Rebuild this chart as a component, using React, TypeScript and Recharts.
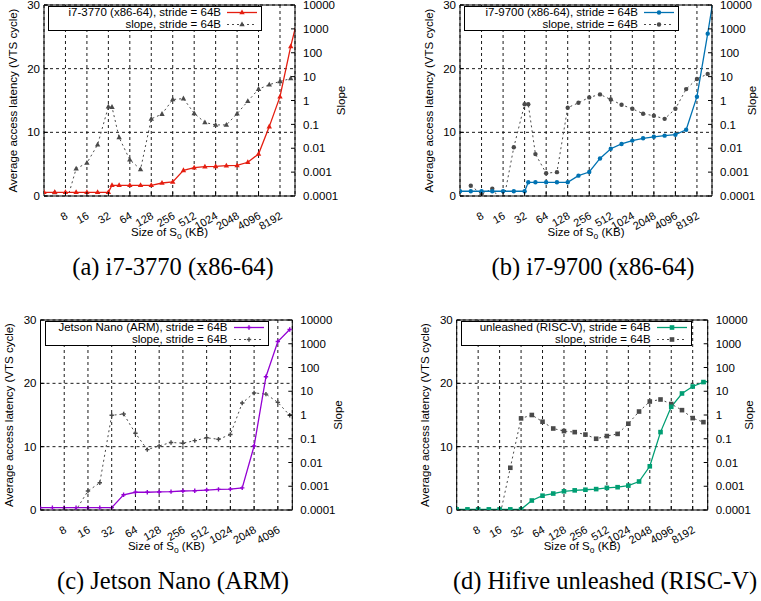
import React from "react";
import { ComposedChart, Line, XAxis, YAxis, CartesianGrid, ReferenceLine, Label } from "recharts";

// x: size of S_o in KB, left axis: average access latency, right axis: slope (log)
const sizesA = [4, 5.66, 8, 11.3, 16, 22.6, 32, 36, 45.3, 64, 90.5, 128, 181, 256, 362, 512, 724, 1024, 1448, 2048, 2896, 4096, 5793, 8192, 11585, 16384];
const latencyA = [0.58, 0.58, 0.58, 0.58, 0.58, 0.58, 0.58, 1.68, 1.68, 1.68, 1.68, 1.68, 2.04, 2.2, 4.03, 4.45, 4.6, 4.66, 4.76, 4.8, 5.3, 6.6, 10.9, 15.6, 23.5, 30.3];
const slopeA = [null, 0.00014, 0.00004, 0.0014, 0.0024, 0.014, 0.55, 0.53, 0.028, 0.0033, 0.0013, 0.17, 0.27, 1.1, 1.2, 0.29, 0.12, 0.095, 0.095, 0.28, 0.93, 3.0, 4.6, 6.3, 8.3, null];

const sizesB = [4, 5.66, 8, 11.3, 16, 22.6, 32, 36, 45.3, 64, 90.5, 128, 181, 256, 362, 512, 724, 1024, 1448, 2048, 2896, 4096, 5793, 8192, 11585, 16384];
const latencyB = [0.75, 0.75, 0.75, 0.75, 0.75, 0.75, 0.75, 2.15, 2.15, 2.15, 2.15, 2.15, 3.2, 3.77, 5.9, 7.43, 8.17, 8.7, 9.06, 9.3, 9.48, 9.63, 10.4, 15.6, 25.5, 36];
const slopeB = [null, 0.00027, 0.00012, 0.0002, 0.00005, 0.011, 0.7, 0.7, 0.0057, 0.0009, 0.001, 0.5, 0.8, 1.35, 1.8, 1.1, 0.66, 0.45, 0.28, 0.23, 0.17, 0.45, 3.0, 8, 13, null];

const sizesC = [4, 5.66, 8, 11.3, 16, 22.6, 32, 45.3, 64, 90.5, 128, 181, 256, 362, 512, 724, 1024, 1448, 2048, 2896, 4096, 5793];
const latencyC = [0.37, 0.37, 0.37, 0.37, 0.37, 0.37, 0.37, 2.4, 2.8, 2.8, 2.85, 2.9, 3.0, 3.05, 3.15, 3.25, 3.3, 3.5, 10.1, 21.05, 26.6, 28.5];
const slopeC = [null, null, 0.0001, 0.0001, 0.00063, 0.0014, 0.97, 1.1, 0.17, 0.035, 0.05, 0.07, 0.065, 0.083, 0.11, 0.095, 0.15, 3.2, 8.5, 7.6, 3.4, 0.97];

const sizesD = [4, 5.66, 8, 11.3, 16, 22.6, 32, 45.3, 64, 90.5, 128, 181, 256, 362, 512, 724, 1024, 1448, 2048, 2896, 4096, 5793, 8192, 11585, 16384];
const latencyD = [0.1, 0.1, 0.1, 0.1, 0.1, 0.1, 0.1, 1.5, 2.26, 2.6, 2.95, 3.1, 3.2, 3.3, 3.5, 3.6, 3.85, 4.5, 6.9, 12.3, 16.3, 18.4, 19.5, 20.2, 20.4];
const slopeD = [null, null, null, null, 0.00005, 0.006, 0.72, 1.0, 0.52, 0.27, 0.21, 0.19, 0.15, 0.1, 0.13, 0.16, 0.43, 1.4, 3.7, 4.5, 2.9, 1.6, 0.74, 0.5, null];

const xTicksLong = [8, 16, 32, 64, 128, 256, 512, 1024, 2048, 4096, 8192];
const xTicksShort = [8, 16, 32, 64, 128, 256, 512, 1024, 2048, 4096];
const latencyTicks = [0, 10, 20, 30];
const slopeTicks = [0.0001, 0.001, 0.01, 0.1, 1, 10, 100, 1000, 10000];

const FONT = "'Liberation Sans', Arial, sans-serif";
const SERIF = "'Liberation Serif', 'Times New Roman', serif";
const SLOPE_GRAY = "#4a4a4a";

type Shape = "triangle" | "circle" | "plus" | "square";

function Marker({ cx, cy, shape, color }: { cx: number; cy: number; shape: Shape; color: string }) {
  if (cx == null || cy == null || isNaN(cx) || isNaN(cy)) return <g />;
  if (shape === "triangle") {
    return <polygon points={`${cx},${cy - 3} ${cx - 2.7},${cy + 1.8} ${cx + 2.7},${cy + 1.8}`} fill={color} />;
  }
  if (shape === "circle") return <circle cx={cx} cy={cy} r={2.2} fill={color} />;
  if (shape === "square") return <rect x={cx - 2.3} y={cy - 2.3} width={4.6} height={4.6} fill={color} />;
  return (
    <g stroke={color} strokeWidth={1.4}>
      <line x1={cx - 2.2} x2={cx + 2.2} y1={cy} y2={cy} />
      <line x1={cx} x2={cx} y1={cy - 2.2} y2={cy + 2.2} />
    </g>
  );
}

const XTick = (props: any) => {
  const { x, y, payload } = props;
  const ax = x + 3;
  const ay = y + 22;
  return (
    <g>
      <line x1={x} x2={x} y1={y} y2={y - 4} stroke="#000" />
      <text x={ax} y={ay} textAnchor="end" fontSize={11} fontFamily={FONT} fill="#000" transform={`rotate(-30 ${ax} ${ay})`}>
        {payload.value}
      </text>
    </g>
  );
};

const LeftTick = (props: any) => {
  const { x, y, payload } = props;
  return (
    <g>
      <line x1={x} x2={x + 4} y1={y} y2={y} stroke="#000" />
      <text x={x - 4} y={y} dy="0.36em" textAnchor="end" fontSize={11.5} fontFamily={FONT} fill="#000">
        {payload.value}
      </text>
    </g>
  );
};

const RightTick = (props: any) => {
  const { x, y, payload } = props;
  return (
    <g>
      <line x1={x - 4} x2={x} y1={y} y2={y} stroke="#000" />
      <text x={x + 8} y={y} dy="0.36em" textAnchor="start" fontSize={11.5} fontFamily={FONT} fill="#000">
        {String(payload.value)}
      </text>
    </g>
  );
};

type PanelProps = {
  sizes: number[];
  latency: number[];
  slope: (number | null)[];
  xMax: number;
  xTicks: number[];
  box: { left: number; top: number; width: number; height: number };
  plot: { left: number; right: number; top: number; bottom: number };
  color: string;
  shape: Shape;
  name: string;
  legendWidth: number;
  slopeTitleDx: number;
  caption: string;
  captionX: number;
  captionTop: number;
};

function LegendSample({ color, shape, dashed }: { color: string; shape: Shape; dashed: boolean }) {
  return (
    <svg width={30} height={11} style={{ display: "block" }}>
      <line x1={0} x2={30} y1={5.5} y2={5.5} stroke={color} strokeWidth={dashed ? 1 : 1.3} strokeDasharray={dashed ? "2 3" : undefined} />
      <Marker cx={15} cy={5.5} shape={shape} color={color} />
    </svg>
  );
}

function Panel(p: PanelProps) {
  const rows = p.sizes.map((x, i) => ({ x, latency: p.latency[i], slope: p.slope[i] }));
  const { box, plot } = p;
  const leftW = plot.left - box.left;
  const rightW = box.left + box.width - plot.right;
  const xAxisH = box.top + box.height - plot.bottom;
  const midY = (plot.top + plot.bottom) / 2 - box.top;
  const midX = (plot.left + plot.right) / 2 - box.left;
  const yTitleX = plot.left - box.left - 31.5;
  const slopeTitleX = plot.right - box.left + p.slopeTitleDx;
  const xTitleY = plot.bottom - box.top + 40;

  return (
    <>
      <div style={{ position: "absolute", left: box.left, top: box.top }}>
        <ComposedChart width={box.width} height={box.height} data={rows} margin={{ top: plot.top - box.top, right: 0, bottom: 0, left: 0 }}>
          <CartesianGrid yAxisId="left" stroke="#000" strokeDasharray="3 3" strokeWidth={0.9} />
          <XAxis
            dataKey="x"
            type="number"
            scale="log"
            domain={[4, p.xMax]}
            allowDataOverflow
            ticks={p.xTicks}
            interval={0}
            height={xAxisH}
            tickSize={0}
            tickMargin={0}
            tick={<XTick />}
            axisLine={{ stroke: "#000" }}
          >
            <Label
              content={() => (
                <text x={midX} y={xTitleY} textAnchor="middle" fontSize={11.5} fontFamily={FONT} fill="#000">
                  <tspan>Size of S</tspan>
                  <tspan dy={3} fontSize={8.5}>o</tspan>
                  <tspan dy={-3}> (KB)</tspan>
                </text>
              )}
            />
          </XAxis>
          <YAxis
            yAxisId="left"
            type="number"
            domain={[0, 30]}
            allowDataOverflow
            ticks={latencyTicks}
            interval={0}
            width={leftW}
            tickSize={0}
            tickMargin={0}
            tick={<LeftTick />}
            axisLine={{ stroke: "#000" }}
          >
            <Label
              content={() => (
                <text
                  x={yTitleX}
                  y={midY}
                  textAnchor="middle"
                  dominantBaseline="central"
                  fontSize={11.5}
                  fontFamily={FONT}
                  fill="#000"
                  transform={`rotate(-90 ${yTitleX} ${midY})`}
                >
                  Average access latency (VTS cycle)
                </text>
              )}
            />
          </YAxis>
          <YAxis
            yAxisId="right"
            orientation="right"
            type="number"
            scale="log"
            domain={[0.0001, 10000]}
            allowDataOverflow
            ticks={slopeTicks}
            interval={0}
            width={rightW}
            tickSize={0}
            tickMargin={0}
            tick={<RightTick />}
            axisLine={{ stroke: "#000" }}
          >
            <Label
              content={() => (
                <text
                  x={slopeTitleX}
                  y={midY}
                  textAnchor="middle"
                  dominantBaseline="central"
                  fontSize={11.5}
                  fontFamily={FONT}
                  fill="#000"
                  transform={`rotate(-90 ${slopeTitleX} ${midY})`}
                >
                  Slope
                </text>
              )}
            />
          </YAxis>
          <ReferenceLine yAxisId="left" y={30} stroke="#000" />
          <Line
            yAxisId="right"
            dataKey="slope"
            stroke={SLOPE_GRAY}
            strokeWidth={1}
            strokeDasharray="2 3"
            isAnimationActive={false}
            dot={(d: any) => <Marker key={`s-${d.index}`} cx={d.cx} cy={d.cy} shape={p.shape} color={SLOPE_GRAY} />}
          />
          <Line
            yAxisId="left"
            dataKey="latency"
            stroke={p.color}
            strokeWidth={1.3}
            isAnimationActive={false}
            dot={(d: any) => <Marker key={`l-${d.index}`} cx={d.cx} cy={d.cy} shape={p.shape} color={p.color} />}
          />
        </ComposedChart>
      </div>
      <div
        style={{
          position: "absolute",
          left: plot.left + 4,
          top: plot.top + 1,
          width: p.legendWidth,
          height: 25,
          boxSizing: "border-box",
          border: "1px solid #000",
          background: "#fff",
          fontFamily: FONT,
          fontSize: 11.5,
          lineHeight: "11.5px",
        }}
      >
        {[
          { label: `${p.name}, stride = 64B`, color: p.color, dashed: false },
          { label: "slope, stride = 64B", color: SLOPE_GRAY, dashed: true },
        ].map((r) => (
          <div key={r.label} style={{ display: "flex", alignItems: "center", height: 11.5 }}>
            <span style={{ flex: 1, textAlign: "right", whiteSpace: "nowrap" }}>{r.label}</span>
            <span style={{ marginLeft: 6, marginRight: 4 }}>
              <LegendSample color={r.color} shape={p.shape} dashed={r.dashed} />
            </span>
          </div>
        ))}
      </div>
      <div
        style={{
          position: "absolute",
          left: p.captionX - 200,
          width: 400,
          top: p.captionTop,
          textAlign: "center",
          fontFamily: SERIF,
          fontSize: 24.5,
          lineHeight: "26px",
          color: "#000",
          whiteSpace: "nowrap",
        }}
      >
        {p.caption}
      </div>
    </>
  );
}

export default function App() {
  return (
    <div style={{ position: "absolute", left: 0, top: 0, width: 761, height: 601, background: "#fff", overflow: "hidden" }}>
      <Panel
        sizes={sizesA}
        latency={latencyA}
        slope={slopeA}
        xMax={13300}
        xTicks={xTicksLong}
        box={{ left: 0, top: 0, width: 380, height: 250 }}
        plot={{ left: 44, right: 295, top: 5, bottom: 196 }}
        color="#e51e10"
        shape="triangle"
        name="i7-3770 (x86-64)"
        legendWidth={214}
        slopeTitleDx={46}
        caption="(a) i7-3770 (x86-64)"
        captionX={173}
        captionTop={254}
      />
      <Panel
        sizes={sizesB}
        latency={latencyB}
        slope={slopeB}
        xMax={13300}
        xTicks={xTicksLong}
        box={{ left: 380, top: 0, width: 381, height: 250 }}
        plot={{ left: 460, right: 712, top: 5, bottom: 196 }}
        color="#0072b2"
        shape="circle"
        name="i7-9700 (x86-64)"
        legendWidth={215}
        slopeTitleDx={40}
        caption="(b) i7-9700 (x86-64)"
        captionX={593}
        captionTop={254}
      />
      <Panel
        sizes={sizesC}
        latency={latencyC}
        slope={slopeC}
        xMax={6250}
        xTicks={xTicksShort}
        box={{ left: 0, top: 300, width: 380, height: 260 }}
        plot={{ left: 40.5, right: 292.3, top: 320, bottom: 510 }}
        color="#9400d3"
        shape="plus"
        name="Jetson Nano (ARM)"
        legendWidth={224}
        slopeTitleDx={46}
        caption="(c) Jetson Nano (ARM)"
        captionX={173}
        captionTop={568}
      />
      <Panel
        sizes={sizesD}
        latency={latencyD}
        slope={slopeD}
        xMax={13300}
        xTicks={xTicksLong}
        box={{ left: 380, top: 300, width: 381, height: 260 }}
        plot={{ left: 456.7, right: 707.7, top: 320, bottom: 510 }}
        color="#009e73"
        shape="square"
        name="unleashed (RISC-V)"
        legendWidth={231}
        slopeTitleDx={41}
        caption="(d) Hifive unleashed (RISC-V)"
        captionX={605}
        captionTop={568}
      />
    </div>
  );
}
